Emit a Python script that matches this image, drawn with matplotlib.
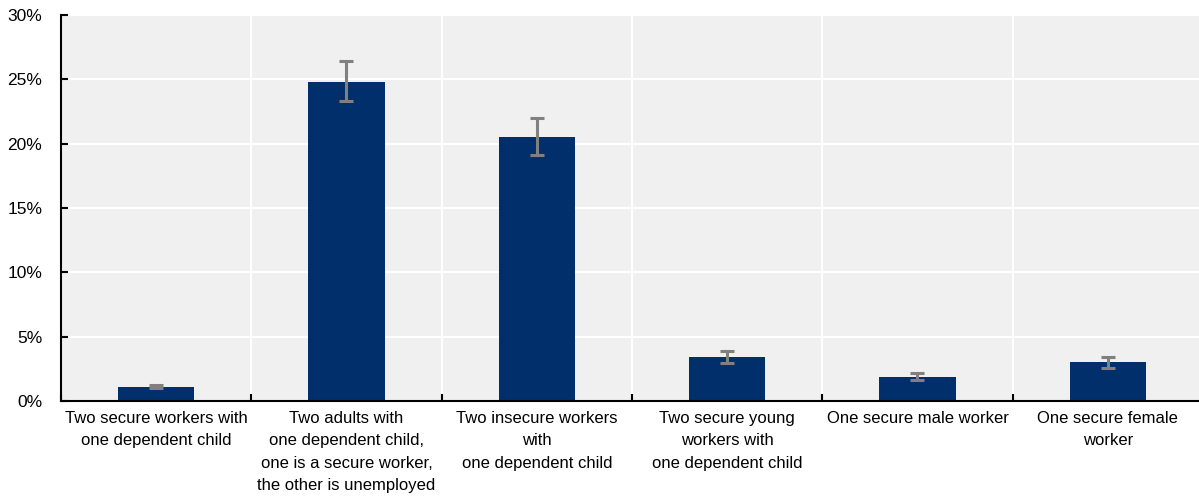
import matplotlib
matplotlib.use("Agg")
import matplotlib.pyplot as plt
import numpy as np
from matplotlib.ticker import FixedLocator, NullFormatter, FuncFormatter

plt.rcParams['font.family'] = ['Liberation Sans', 'DejaVu Sans']

categories = [
    "Two secure workers with\none dependent child",
    "Two adults with\none dependent child,\none is a secure worker,\nthe other is unemployed",
    "Two insecure workers\nwith\none dependent child",
    "Two secure young\nworkers with\none dependent child",
    "One secure male worker",
    "One secure female\nworker",
]
values = [1.1, 24.8, 20.5, 3.45, 1.9, 3.0]
err_low = [1.0, 23.3, 19.1, 2.95, 1.6, 2.6]
err_high = [1.25, 26.4, 22.0, 3.9, 2.2, 3.45]
yticks = [0, 5, 10, 15, 20, 25, 30]

fig = plt.figure(figsize=(11.99, 4.98), dpi=100)
W, H = 1199, 498
left, right, top, bottom = 61, 1203, 15, 401
ax = fig.add_axes([left / W, 1 - bottom / H, (right - left) / W, (bottom - top) / H])
ax.set_facecolor('#F0F0F0')

x = np.arange(len(categories))
vals = np.array(values)
yerr = np.array([vals - np.array(err_low), np.array(err_high) - vals])
ax.bar(x, vals, width=0.4, color='#002F6C', zorder=3)
ax.errorbar(x, vals, yerr=yerr, fmt='none', ecolor='#808080', elinewidth=2.2,
            capsize=5, capthick=2.2, zorder=4)

ax.set_xlim(-0.5, len(categories) - 0.5)
ax.set_ylim(0, 30)
ax.set_yticks(yticks)
ax.yaxis.set_major_formatter(FuncFormatter(lambda v, p: f"{v:.0f}%"))

# category boundaries carry the ticks and vertical gridlines
bounds = np.arange(len(categories) + 1) - 0.5
ax.xaxis.set_major_locator(FixedLocator(bounds))
ax.xaxis.set_major_formatter(NullFormatter())
ax.xaxis.set_minor_locator(FixedLocator(x))
ax.set_xticklabels(categories, minor=True, linespacing=1.62)
ax.tick_params(axis='x', which='minor', length=0, pad=7, labelsize=12)
ax.tick_params(axis='x', which='major', direction='in', length=5, width=1.5)
ax.tick_params(axis='y', direction='in', length=5, width=1.5, labelsize=12.5, pad=13.5)

ax.grid(True, which='major', axis='both', color='white', linewidth=1.5, zorder=0)
ax.set_axisbelow(True)

for s in ['top', 'right']:
    ax.spines[s].set_visible(False)
for s in ['left', 'bottom']:
    ax.spines[s].set_linewidth(1.5)
    ax.spines[s].set_color('black')
    ax.spines[s].set_zorder(5)

fig.savefig('out.png', dpi=100)
